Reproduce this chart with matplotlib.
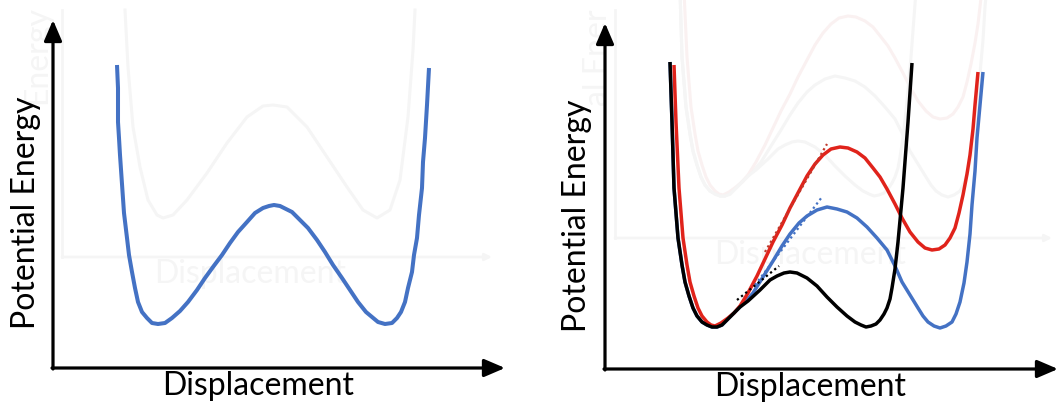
import matplotlib
matplotlib.use("Agg")
import matplotlib.pyplot as plt
from matplotlib.transforms import ScaledTranslation

# All coordinates are in "picture units": 1 unit = 1 px of the 1056x405 figure,
# measured from each panel's axis origin.

# ---- left panel: symmetric double well ------------------------------------
well_x = [64, 65, 65, 66, 67, 69, 71, 74, 76, 79, 82, 85, 89, 94, 99, 105, 112, 119,
          127, 135, 144, 152, 160, 169, 177, 185, 194, 202, 210, 216, 221, 227,
          233, 239, 247, 255, 264, 272, 280, 289, 297, 305, 313, 319, 325, 332,
          339, 344, 348, 352, 355, 359, 361, 364, 366, 369, 370, 372, 374, 376]
well_y = [303, 280, 246, 230, 213, 184, 155, 130, 113, 96, 80, 66, 56, 50, 45, 44, 45, 50,
          57, 66, 78, 90, 101, 113, 125, 136, 146, 155, 160, 162, 163, 162,
          159, 156, 148, 140, 128, 116, 103, 90, 78, 66, 56, 51, 46, 44,
          45, 50, 56, 66, 80, 96, 113, 130, 153, 180, 206, 230, 263, 300]

# faint bleed-through from the page behind
ghost_l_x = [72, 75, 80, 87, 95, 104, 110, 120, 134, 154, 174, 194, 210, 220, 234,
             254, 274, 294, 310, 324, 337, 347, 355, 360, 362]
ghost_l_y = [358, 301, 241, 201, 168, 153, 150, 153, 168, 195, 225, 251, 262, 263,
             261, 241, 211, 181, 158, 150, 158, 188, 251, 318, 358]

# ---- right panel: three asymmetric wells ----------------------------------
blue_x = [65, 67, 69, 73, 77, 80, 84, 88, 92, 97, 102, 107, 112, 117, 123, 129,
          135, 142, 148, 158, 168, 177, 185, 194, 202, 212, 222, 232, 242, 252,
          262, 272, 282, 290, 297, 305, 313, 318, 323, 329, 335, 341, 347, 351,
          355, 359, 362, 365, 367, 370, 372, 375, 378]
blue_y = [307, 247, 181, 131, 104, 87, 73, 61, 53, 47, 44, 42, 42, 44, 50, 56,
          62, 69, 76, 92, 108, 123, 135, 146, 153, 159, 162, 160, 157, 151,
          142, 131, 119, 103, 87, 74, 61, 53, 47, 43, 41, 43, 47, 55,
          67, 86, 107, 135, 164, 198, 231, 264, 297]

red_x = [69, 71, 74, 78, 82, 85, 89, 93, 97, 102, 106, 110, 116, 123, 129, 135,
         143, 152, 160, 168, 177, 185, 194, 202, 210, 218, 226, 235, 243, 252,
         260, 268, 275, 282, 290, 297, 305, 313, 320, 327, 334, 340, 345, 350,
         354, 358, 362, 365, 368, 370, 373]
red_y = [304, 247, 181, 131, 104, 87, 73, 61, 53, 47, 44, 43, 46, 51, 56, 63,
         76, 93, 110, 127, 144, 161, 178, 193, 205, 214, 220, 222, 221, 217,
         211, 201, 192, 180, 165, 151, 137, 127, 121, 119, 120, 124, 131, 141,
         156, 174, 195, 214, 240, 264, 297]

black_x = [65, 67, 69, 73, 77, 80, 84, 88, 92, 97, 102, 107, 112, 117, 123, 129,
           135, 143, 155, 165, 172, 179, 185, 192, 202, 212, 222, 232, 242, 250,
           256, 261, 266, 271, 275, 279, 282, 285, 287, 290, 293, 298, 303, 307]
black_y = [307, 247, 181, 131, 104, 87, 73, 61, 53, 47, 44, 42, 42, 44, 50, 56,
           62, 68, 79, 89, 93, 96, 97, 96, 91, 83, 72, 62, 53, 47,
           44, 42, 43, 45, 49, 55, 61, 70, 81, 100, 127, 181, 247, 306]

# tangents at the inflection points (dotted): (x0, x1), (y0, y1)
tan_red = ([160, 222], [117, 225])
tan_blue = ([150, 217], [84, 172])
tan_black = ([132, 174], [69, 103])

BLUE = "#4472c4"
RED = "#e0231b"
GHOST = "#f5f5f5"
GHOST_PINK = "#faf1f1"
FONT = "Lato"
FS = 23


def axis_arrows(ax, x_end, y_end, color="black", lw=2.3, ms=18, z=2):
    style = "-|>,head_length=0.7,head_width=0.3"
    for xy, xytext in [((x_end, 0), (-1, 0)), ((0, y_end), (0, -1))]:
        ax.annotate("", xy=xy, xytext=xytext, annotation_clip=False, zorder=z,
                    arrowprops=dict(arrowstyle=style, color=color, lw=lw,
                                    mutation_scale=ms, shrinkA=0, shrinkB=0))


def make_panel(fig, x0, y0, x1, y1):
    """Axes whose data units are figure pixels, origin at (x0, y0) px (top-left based)."""
    W, H = 1056, 405
    ax = fig.add_axes([x0 / W, (H - y0) / H, (x1 - x0) / W, (y0 - y1) / H])
    ax.set_xlim(0, x1 - x0)
    ax.set_ylim(0, y0 - y1)
    ax.axis("off")
    return ax


fig = plt.figure(figsize=(10.56, 4.05), dpi=100)

# ---------------- left ----------------
axl = make_panel(fig, 53, 368, 505, 20)
# ghost layer
axl.plot(ghost_l_x, ghost_l_y, color=GHOST, lw=2.2, clip_on=False, zorder=0)
axl.plot([9, 9], [111, 358], color=GHOST, lw=2, clip_on=False, zorder=0)
axl.annotate("", xy=(439, 111), xytext=(9, 111), annotation_clip=False,
             arrowprops=dict(arrowstyle="-|>", color=GHOST, lw=2,
                             shrinkA=0, shrinkB=0), zorder=0)
axl.text(197, 94, "Displacement", color=GHOST, fontsize=FS, family=FONT,
         ha="center", va="center", zorder=0)
axl.text(-16, 313, "Energy", color=GHOST, fontsize=FS, family=FONT,
         rotation=90, ha="center", va="center", zorder=0)

axl.plot(well_x, well_y, color=BLUE, lw=2.9, solid_joinstyle="round",
         solid_capstyle="butt", zorder=3)
axis_arrows(axl, 452, 348)
axl.text(205, -27, "Displacement", fontsize=FS, family=FONT,
         ha="center", va="baseline")
axl.text(-27, 155, "Potential Energy", fontsize=FS, family=FONT,
         rotation=90, ha="center", va="center")

# ---------------- right ----------------
axr = make_panel(fig, 605, 369, 1058, 23)

# ghost layer: faint copy of the same curves, shifted up/right
shift = axr.transData + ScaledTranslation(0.08, 1.31, fig.dpi_scale_trans)
for xs, ys, c in [(blue_x, blue_y, GHOST), (red_x, red_y, GHOST_PINK),
                  (black_x, black_y, GHOST)]:
    axr.plot(xs, ys, color=c, lw=2.2, transform=shift, clip_on=False, zorder=0)
axr.plot([10, 10], [131, 359], color=GHOST, lw=2, clip_on=False, zorder=0)
axr.annotate("", xy=(447, 131), xytext=(10, 131), annotation_clip=False,
             arrowprops=dict(arrowstyle="-|>", color=GHOST, lw=2,
                             shrinkA=0, shrinkB=0), zorder=0)
axr.text(205, 114, "Displacement", color=GHOST, fontsize=FS, family=FONT,
         ha="center", va="center", zorder=0)
axr.text(-7, 311, "al Ener", color=GHOST, fontsize=FS, family=FONT,
         rotation=90, ha="center", va="center", zorder=0)

kw = dict(lw=2.5, solid_joinstyle="round", solid_capstyle="butt")
axr.plot(blue_x, blue_y, color=BLUE, zorder=3, **kw)
axr.plot(red_x, red_y, color=RED, zorder=4, **kw)
axr.plot(black_x, black_y, color="black", zorder=5, **kw)
dot = dict(lw=1.6, linestyle=(0, (1, 1.4)), zorder=6)
axr.plot(*tan_red, color="#c0392b", **dot)
axr.plot(*tan_blue, color=BLUE, **dot)
axr.plot(*tan_black, color="black", **dot)

axis_arrows(axr, 453, 346)
axr.text(205, -27, "Displacement", fontsize=FS, family=FONT,
         ha="center", va="baseline")
axr.text(-28, 153, "Potential Energy", fontsize=FS, family=FONT,
         rotation=90, ha="center", va="center")

fig.savefig("out.png", dpi=100)
